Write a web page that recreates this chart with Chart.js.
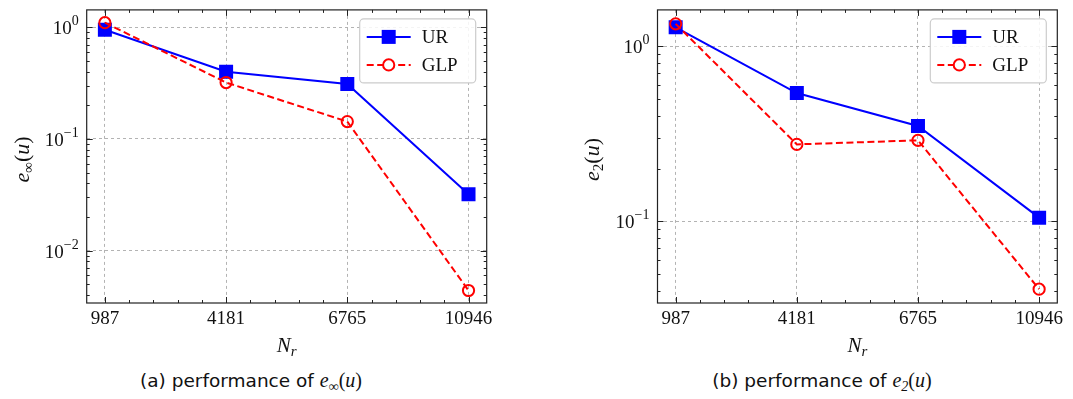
<!DOCTYPE html>
<html>
<head>
<meta charset="utf-8">
<script src="https://cdn.jsdelivr.net/npm/chart.js@4.4.0/dist/chart.umd.min.js"></script>
<style>
  body { margin: 0; background: #fff; width: 1073px; height: 399px; overflow: hidden; position: relative; }
  canvas { position: absolute; top: 0; }
  .cap { position: absolute; top: 369px; font: 18.5px "DejaVu Sans", sans-serif; color: #111; white-space: nowrap; transform: translateX(-50%); }
  .cap .m { font: italic 20px "Liberation Serif", serif; }
  .cap .m .u { font-style: normal; }
  .cap sub { font-size: 14px; vertical-align: -4px; line-height: 0; }
</style>
</head>
<body>
<canvas id="c1" width="540" height="360" style="left:0"></canvas>
<canvas id="c2" width="533" height="360" style="left:540px"></canvas>
<div class="cap" style="left:251px">(a) performance of <span class="m">e<sub>∞</sub><span class="u">(</span>u<span class="u">)</span></span></div>
<div class="cap" style="left:822px">(b) performance of <span class="m">e<sub>2</sub><span class="u">(</span>u<span class="u">)</span></span></div>
<script>
// values
const nr = ['987', '4181', '6765', '10946'];
const urInf = [0.95, 0.40, 0.31, 0.032];
const glpInf = [1.1, 0.32, 0.143, 0.0044];
const urL2 = [1.28, 0.54, 0.35, 0.105];
const glpL2 = [1.34, 0.275, 0.29, 0.041];
const yMajor = [0.001, 0.01, 0.1, 1];

const BLUE = '#0000ff';
const RED = '#ff0000';
const SERIF = '"Liberation Serif", serif';

// draw a run of text pieces one after another (font + vertical shift)
function drawRun(ctx, parts, x, y, align) {
    let w = 0;
    parts.forEach(p => { ctx.font = p.font; w += ctx.measureText(p.t).width; });
    let cx = align === 'center' ? x - w / 2 : align === 'right' ? x - w : x;
    parts.forEach(p => {
        ctx.font = p.font;
        ctx.fillText(p.t, cx, y + (p.dy || 0));
        cx += ctx.measureText(p.t).width;
    });
}

const framePlugin = {
    id: 'frame',
    afterDraw(chart) {
        const { ctx, chartArea: a, scales } = chart;
        const xs = scales.x, ys = scales.y;
        const o = chart.options.plugins.frame;
        ctx.save();
        ctx.strokeStyle = '#222';
        ctx.lineWidth = 1.2;
        ctx.strokeRect(a.left, a.top, a.right - a.left, a.bottom - a.top);

        // inward ticks on all four sides
        const tick = (x1, y1, x2, y2) => { ctx.beginPath(); ctx.moveTo(x1, y1); ctx.lineTo(x2, y2); ctx.stroke(); };
        ctx.lineWidth = 1;
        for (let v = -0.2; v <= 3.2001; v += 0.2) {
            if (v < xs.min || v > xs.max) continue;
            const px = Math.round(xs.getPixelForValue(v)) + 0.5;
            const major = Math.abs(v - Math.round(v)) < 1e-6;
            const len = major ? 6 : 3;
            tick(px, a.bottom, px, a.bottom - len);
            tick(px, a.top, px, a.top + len);
        }
        yMajor.forEach(d => {
            for (let k = 1; k <= 9; k++) {
                const v = k * d;
                if (v < ys.min || v > ys.max) continue;
                const py = Math.round(ys.getPixelForValue(v)) + 0.5;
                const len = k === 1 ? 6 : 3;
                tick(a.left, py, a.left + len, py);
                tick(a.right, py, a.right - len, py);
            }
        });

        // y tick labels as powers of ten
        ctx.fillStyle = '#111';
        ctx.textBaseline = 'alphabetic';
        ys.ticks.forEach(t => {
            const e = Math.round(Math.log10(t.value));
            const py = ys.getPixelForValue(t.value);
            drawRun(ctx, [
                { t: '10', font: '19px ' + SERIF },
                { t: e === 0 ? '0' : '\u2212' + (-e), font: '14px ' + SERIF, dy: -9 }
            ], a.left - 8, py + 7, 'right');
        });

        // axis titles
        drawRun(ctx, [
            { t: 'N', font: 'italic 21px ' + SERIF },
            { t: 'r', font: 'italic 15px ' + SERIF, dy: 4 }
        ], (a.left + a.right) / 2, 352, 'center');
        ctx.save();
        ctx.translate(o.yTitleX, (a.top + a.bottom) / 2 + 3);
        ctx.rotate(-Math.PI / 2);
        drawRun(ctx, [
            { t: 'e', font: 'italic 22px ' + SERIF },
            { t: o.sub, font: '15px ' + SERIF, dy: 4 },
            { t: '(', font: '22px ' + SERIF },
            { t: 'u', font: 'italic 22px ' + SERIF },
            { t: ')', font: '22px ' + SERIF }
        ], 0, 7, 'center');
        ctx.restore();

        // legend box, top right inside the axes
        const bw = 116, bh = 64;
        const bx = a.right - 11 - bw, by = a.top + 9;
        ctx.beginPath();
        ctx.roundRect(bx, by, bw, bh, 4);
        ctx.fillStyle = 'rgba(255,255,255,0.85)';
        ctx.fill();
        ctx.strokeStyle = '#cccccc';
        ctx.lineWidth = 1.2;
        ctx.stroke();
        chart.data.datasets.forEach((ds, i) => {
            const ly = by + 18 + i * 28;
            const x1 = bx + 7, x2 = bx + 51, mx = (x1 + x2) / 2;
            ctx.strokeStyle = ds.borderColor;
            ctx.lineWidth = ds.borderWidth;
            ctx.setLineDash(ds.borderDash || []);
            tick(x1, ly, x2, ly);
            ctx.setLineDash([]);
            if (ds.pointStyle === 'rect') {
                const s = Math.SQRT1_2 * ds.pointRadius;
                ctx.fillStyle = ds.pointBackgroundColor;
                ctx.fillRect(mx - s, ly - s, 2 * s, 2 * s);
            } else {
                ctx.beginPath();
                ctx.arc(mx, ly, ds.pointRadius, 0, 2 * Math.PI);
                ctx.fillStyle = '#fff';
                ctx.fill();
                ctx.lineWidth = ds.pointBorderWidth;
                ctx.stroke();
            }
            ctx.fillStyle = '#111';
            ctx.font = '19px ' + SERIF;
            ctx.textBaseline = 'middle';
            ctx.fillText(ds.label, bx + 62, ly + 1);
        });
        ctx.restore();
    }
};

function makeChart(id, ur, glp, yMin, yMax, yWidth, padRight, sub, yTitleX) {
    return new Chart(document.getElementById(id), {
        type: 'line',
        data: {
            datasets: [{
                label: 'UR',
                data: ur.map((v, i) => ({ x: i, y: v })),
                borderColor: BLUE,
                borderWidth: 2,
                pointStyle: 'rect',
                pointRadius: 9.9,
                pointBackgroundColor: BLUE,
                pointBorderWidth: 0,
                order: 1
            }, {
                label: 'GLP',
                data: glp.map((v, i) => ({ x: i, y: v })),
                borderColor: RED,
                borderWidth: 2,
                borderDash: [7, 3.5],
                pointStyle: 'circle',
                pointRadius: 5.6,
                pointBorderWidth: 2,
                pointBorderColor: RED,
                pointBackgroundColor: 'rgba(0,0,0,0)',
                order: 0
            }]
        },
        options: {
            responsive: false,
            animation: false,
            devicePixelRatio: 1,
            layout: { padding: { left: 0, right: padRight, top: 5, bottom: 0 } },
            scales: {
                x: {
                    type: 'linear',
                    min: -0.15,
                    max: 3.15,
                    afterBuildTicks: s => { s.ticks = nr.map((_, i) => ({ value: i })); },
                    afterFit: s => { s.height = 57; },
                    ticks: {
                        callback: v => nr[v],
                        color: '#111',
                        font: { family: '"Liberation Serif", serif', size: 19 },
                        padding: 5,
                        maxRotation: 0
                    },
                    grid: { color: '#a0a0a0', lineWidth: 0.8, drawTicks: false },
                    border: { display: false, dash: [3, 3] }
                },
                y: {
                    type: 'logarithmic',
                    min: yMin,
                    max: yMax,
                    afterBuildTicks: s => {
                        s.ticks = yMajor.filter(v => v >= s.min && v <= s.max).map(v => ({ value: v, major: true }));
                    },
                    afterFit: s => { s.width = yWidth; },
                    ticks: { display: false },
                    grid: { color: '#a0a0a0', lineWidth: 0.8, drawTicks: false },
                    border: { display: false, dash: [3, 3] }
                }
            },
            plugins: {
                legend: { display: false },
                tooltip: { enabled: false },
                frame: { sub: sub, yTitleX: yTitleX }
            }
        },
        plugins: [framePlugin]
    });
}

makeChart('c1', urInf, glpInf, 0.0034, 1.43, 86.7, 53.3, '\u221e', 22);
makeChart('c2', urL2, glpL2, 0.0342, 1.61, 117.5, 15.7, '2', 52);
</script>
</body>
</html>
